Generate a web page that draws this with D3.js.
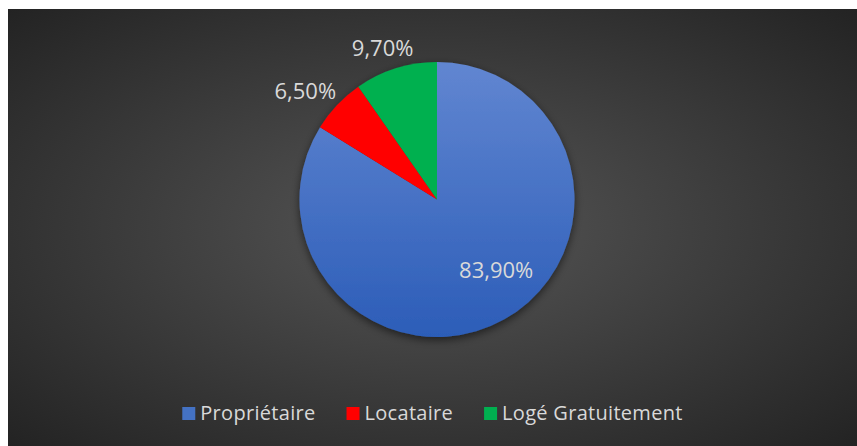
<!DOCTYPE html>
<html>
<head>
<meta charset="utf-8">
<script src="https://cdn.jsdelivr.net/npm/d3@7"></script>
<style>
  html, body { margin: 0; padding: 0; background: #fff; }
  svg { display: block; font-family: "Open Sans", sans-serif; }
</style>
</head>
<body>
<div class="chart"></div>
<script>
// data
const categories = ["Propriétaire", "Locataire", "Logé Gratuitement"];
const values = [83.9, 6.5, 9.7];
const labels = ["83,90%", "6,50%", "9,70%"];
const colors = ["url(#blueGrad)", "#ff0000", "#00b050"];
const legendColors = ["#4472c4", "#ff0000", "#00b050"];

const W = 857, H = 446;
const frame = { x: 8, y: 9, w: 849, h: 437 };
const cx = 437, cy = 199.5, r = 137.5;

const svg = d3.select(".chart").append("svg")
  .attr("width", W)
  .attr("height", H);

const defs = svg.append("defs");

const bg = defs.append("radialGradient")
  .attr("id", "bgGrad")
  .attr("cx", 0.5).attr("cy", 0.5).attr("r", 0.72);
bg.append("stop").attr("offset", "0%").attr("stop-color", "#565656");
bg.append("stop").attr("offset", "100%").attr("stop-color", "#222222");

// gradient coords are in the pie group's (translated) space
const blue = defs.append("linearGradient")
  .attr("id", "blueGrad")
  .attr("gradientUnits", "userSpaceOnUse")
  .attr("x1", 0).attr("y1", -r)
  .attr("x2", 0).attr("y2", r);
blue.append("stop").attr("offset", "0%").attr("stop-color", "#6186d1");
blue.append("stop").attr("offset", "100%").attr("stop-color", "#2c5db8");

const shadow = defs.append("filter")
  .attr("id", "shadow")
  .attr("x", "-20%").attr("y", "-20%")
  .attr("width", "140%").attr("height", "140%");
shadow.append("feDropShadow")
  .attr("dx", 0).attr("dy", 3)
  .attr("stdDeviation", 4)
  .attr("flood-color", "#000")
  .attr("flood-opacity", 0.55);

svg.append("rect")
  .attr("x", frame.x).attr("y", frame.y)
  .attr("width", frame.w).attr("height", frame.h)
  .attr("fill", "url(#bgGrad)");

const pie = d3.pie().sort(null).value(d => d)(values);
const arc = d3.arc().innerRadius(0).outerRadius(r);

const g = svg.append("g").attr("transform", `translate(${cx},${cy})`);

g.append("g").attr("filter", "url(#shadow)")
  .selectAll("path")
  .data(pie)
  .join("path")
  .attr("d", arc)
  .attr("fill", (d, i) => colors[i]);

// labels: first slice inside, others outside end
const inner = d3.arc().innerRadius(r * 0.66).outerRadius(r * 0.66);
const gap = 13;
const lab = g.append("g")
  .attr("font-size", 22)
  .attr("fill", "#d9d9d9");

pie.forEach((d, i) => {
  const t = lab.append("text").text(labels[i]).attr("text-anchor", "middle");
  const a = (d.startAngle + d.endAngle) / 2;
  if (i === 0) {
    const [x, y] = inner.centroid(d);
    t.attr("x", x + 15).attr("y", y - 8).attr("dy", "0.35em");
  } else {
    const w = t.node().getComputedTextLength();
    const h = 16;
    const px = Math.sin(a) * (r + gap), py = -Math.cos(a) * (r + gap);
    const x = px + Math.sin(a) * w / 2;
    const y = py - Math.cos(a) * h / 2;
    t.attr("x", x).attr("y", y + h / 2);
  }
});

// legend
const leg = svg.append("g").attr("font-size", 20).attr("fill", "#d9d9d9");
const sq = 13, pad = 5, spacing = 31;
const items = categories.map((c, i) => {
  const it = leg.append("g");
  it.append("rect").attr("width", sq).attr("height", sq)
    .attr("y", -sq).attr("fill", legendColors[i]);
  const t = it.append("text").attr("x", sq + pad).attr("y", 0)
    .attr("letter-spacing", 0.3).text(c);
  return { it, w: sq + pad + t.node().getComputedTextLength() };
});
const total = d3.sum(items, d => d.w) + spacing * (items.length - 1);
let x0 = frame.x + frame.w / 2 - total / 2;
items.forEach(d => {
  d.it.attr("transform", `translate(${x0},420)`);
  x0 += d.w + spacing;
});
</script>
</body>
</html>
